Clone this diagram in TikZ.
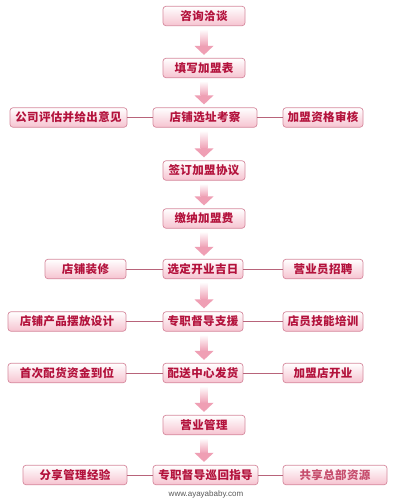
\documentclass[tikz,border=0pt]{standalone}
\usepackage{fontspec}
\newfontfamily\cjk{Noto Sans CJK SC}[LetterSpace=3]
\setsansfont{Liberation Sans}
\usetikzlibrary{calc}
\definecolor{boxline}{HTML}{D68A9E}
\definecolor{boxbot}{HTML}{F6C3D0}
\definecolor{txtred}{HTML}{B3123C}
\definecolor{linkline}{HTML}{B8647A}
\definecolor{arrowpink}{HTML}{EF9FB4}
\begin{document}
\begin{tikzpicture}[x=1pt,y=-1pt,
  flowbox/.style={draw=boxline, line width=0.7pt, rounded corners=3pt,
    top color=white, bottom color=boxbot, minimum height=19.5pt,
    inner sep=0pt, font=\cjk\bfseries\fontsize{11.5}{13}\selectfont, text=txtred},
  shaftfill/.style={top color=white, bottom color=arrowpink},
  headfill/.style={fill=arrowpink},
  link/.style={draw=linkline, line width=1pt}]
\useasboundingbox (0,0) rectangle (400,503);
\fill[white] (0,0) rectangle (400,503);
% centre column
\node[flowbox, minimum width=82pt] (c1) at (204,16) {咨询洽谈};
\node[flowbox, minimum width=82pt] (c2) at (204,68) {填写加盟表};
\node[flowbox, minimum width=104pt] (c3) at (205,117.5) {店铺选址考察};
\node[flowbox, minimum width=82pt] (c4) at (204,170.5) {签订加盟协议};
\node[flowbox, minimum width=82pt] (c5) at (204,218.5) {缴纳加盟费};
\node[flowbox, minimum width=80pt] (c6) at (203,269) {选定开业吉日};
\node[flowbox, minimum width=80pt] (c7) at (203,321.5) {专职督导支援};
\node[flowbox, minimum width=80pt] (c8) at (203,373) {配送中心发货};
\node[flowbox, minimum width=82pt] (c9) at (204,425) {营业管理};
\node[flowbox, minimum width=105pt] (c10) at (205.5,475) {专职督导巡回指导};
% side boxes
\node[flowbox, minimum width=117pt] (l3) at (68.5,117.5) {公司评估并给出意见};
\node[flowbox, minimum width=80pt] (r3) at (323,117.5) {加盟资格审核};
\node[flowbox, minimum width=81pt] (l6) at (85.5,269) {店铺装修};
\node[flowbox, minimum width=80pt] (r6) at (323,269) {营业员招聘};
\node[flowbox, minimum width=118pt] (l7) at (67,321.5) {店铺产品摆放设计};
\node[flowbox, minimum width=80pt] (r7) at (323,321.5) {店员技能培训};
\node[flowbox, minimum width=118pt] (l8) at (67,373) {首次配货资金到位};
\node[flowbox, minimum width=80pt] (r8) at (323,373) {加盟店开业};
\node[flowbox, minimum width=104pt] (l10) at (75,475) {分享管理经验};
\node[flowbox, minimum width=104pt, text=txtred!75] (r10) at (335,475) {共享总部资源};
% arrows (shaded shaft + head)
\foreach \a/\b in {c1/c2,c2/c3,c3/c4,c4/c5,c5/c6,c6/c7,c7/c8,c8/c9,c9/c10}{
  \path let \p1=(\a.south), \p2=(\b.north) in
    coordinate (as) at (204,\y1) coordinate (ae) at (204,\y2);
  \shade[shaftfill] ($(as)+(-3.5,3)$) rectangle ($(ae)+(3.5,-11.5)$);
  \fill[headfill] ($(ae)+(-9.5,-12)$) -- ($(ae)+(9.5,-12)$) -- ($(ae)+(0,-3)$) -- cycle;
}
% links
\foreach \a/\b in {l3/c3,c3/r3,l6/c6,c6/r6,l7/c7,c7/r7,l8/c8,c8/r8,l10/c10,c10/r10}
  \draw[link] (\a) -- (\b);
% watermark
\node[font=\sffamily\fontsize{8}{9}\selectfont, text=black!65] (wm) at (206,494) {www.ayayababy.com};
\end{tikzpicture}
\end{document}
